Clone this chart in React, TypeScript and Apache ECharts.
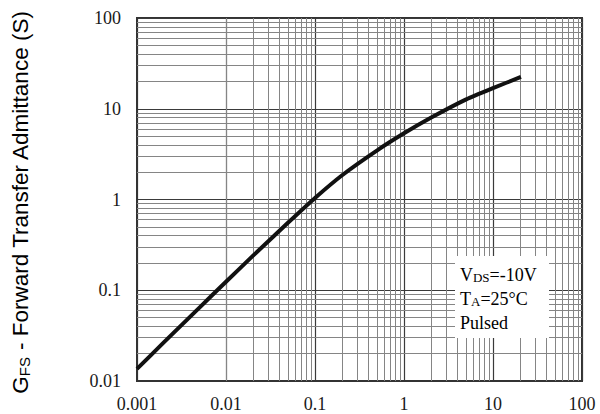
import React, { useEffect, useRef } from "react";
import * as echarts from "echarts";

// Drain current (A) vs forward transfer admittance (S)
const idValues = [0.001, 0.002, 0.005, 0.01, 0.02, 0.05, 0.1, 0.2, 0.5, 1, 2, 5, 10, 20.6];
const gfsValues = [0.0136, 0.0266, 0.064, 0.124, 0.239, 0.557, 1.04, 1.84, 3.48, 5.36, 7.95, 12.7, 16.9, 22.4];

const xTickLabels = ["0.001", "0.01", "0.1", "1", "10", "100"];
const yTickLabels = ["0.01", "0.1", "1", "10", "100"];
const xDecades = [-3, -2, -1, 0, 1];
const yDecades = [-2, -1, 0, 1];
const minorMultipliers = [2, 3, 4, 5, 6, 7, 8, 9];

const annotationLines = ["{n|V}{s|DS}{n|=-10V}", "{n|T}{s|A}{n|=25°C}", "{n|Pulsed}"];

export default function App() {
  const ref = useRef<HTMLDivElement>(null);

  useEffect(() => {
    if (!ref.current) return;
    const chart = echarts.init(ref.current, null, { renderer: "svg" });

    const minorLine = { color: "#858585", width: 1, type: "solid" as const };
    const markData: any[] = [];
    xDecades.forEach((e) => {
      minorMultipliers.forEach((m) => {
        markData.push({ xAxis: parseFloat((m * Math.pow(10, e)).toPrecision(3)), lineStyle: minorLine });
      });
    });
    yDecades.forEach((e) => {
      minorMultipliers.forEach((m) => {
        markData.push({ yAxis: parseFloat((m * Math.pow(10, e)).toPrecision(3)), lineStyle: minorLine });
      });
    });

    const serif = "'Liberation Serif', 'DejaVu Serif', serif";
    const sans = "'Liberation Sans', Arial, sans-serif";

    chart.setOption({
      animation: false,
      backgroundColor: "#ffffff",
      grid: {
        left: 137,
        right: 18,
        top: 18,
        bottom: 33,
        show: true,
        borderColor: "#333",
        borderWidth: 2,
        backgroundColor: "transparent",
      },
      xAxis: {
        type: "log",
        logBase: 10,
        min: 0.001,
        max: 100,
        axisLine: { show: true, lineStyle: { color: "#333", width: 2 } },
        axisTick: { show: false },
        splitLine: { show: true, lineStyle: { color: "#3a3a3a", width: 1.2 } },
        axisLabel: {
          margin: 14,
          fontFamily: serif,
          fontSize: 18,
          color: "#1a1a1a",
          formatter: (v: number) => xTickLabels[Math.round(Math.log10(v)) + 3] ?? "",
        },
      },
      yAxis: {
        type: "log",
        logBase: 10,
        min: 0.01,
        max: 100,
        axisLine: { show: true, lineStyle: { color: "#333", width: 2 } },
        axisTick: { show: false },
        splitLine: { show: true, lineStyle: { color: "#3a3a3a", width: 1.2 } },
        axisLabel: {
          margin: 16,
          fontFamily: serif,
          fontSize: 18,
          color: "#1a1a1a",
          formatter: (v: number) => yTickLabels[Math.round(Math.log10(v)) + 2] ?? "",
        },
      },
      series: [
        {
          type: "line",
          z: 1,
          data: [[1, 1]],
          symbol: "none",
          lineStyle: { opacity: 0 },
          silent: true,
          markLine: {
            silent: true,
            symbol: ["none", "none"],
            label: { show: false },
            emphasis: { disabled: true },
            data: markData,
          },
        },
        {
          type: "line",
          z: 5,
          data: idValues.map((x, i) => [x, gfsValues[i]]),
          smooth: 0.2,
          symbol: "none",
          lineStyle: { color: "#111", width: 4 },
          silent: true,
        },
      ],
      graphic: [
        {
          type: "rect",
          shape: { x: 455, y: 256, width: 94, height: 82 },
          style: { fill: "#ffffff" },
          z: 10,
        },
        {
          type: "text",
          x: 460,
          y: 260,
          z: 11,
          style: {
            text: annotationLines.join("\n"),
            rich: {
              n: { fontFamily: serif, fontSize: 18, color: "#1a1a1a", lineHeight: 24, verticalAlign: "bottom" },
              s: { fontFamily: serif, fontSize: 13, color: "#1a1a1a", lineHeight: 20.5, verticalAlign: "bottom" },
            },
          },
        },
        {
          type: "text",
          x: 19,
          y: 202,
          rotation: Math.PI / 2,
          z: 11,
          style: {
            text: "{a|G}{b|FS}{a| - Forward Transfer Admittance (S)}",
            align: "center",
            verticalAlign: "middle",
            rich: {
              a: { fontFamily: sans, fontSize: 22.5, color: "#222", verticalAlign: "bottom", lineHeight: 26 },
              b: { fontFamily: sans, fontSize: 15, color: "#222", verticalAlign: "bottom", lineHeight: 20.75 },
            },
          },
        },
      ],
    });

    return () => chart.dispose();
  }, []);

  return (
    <div
      ref={ref}
      style={{ position: "fixed", left: 0, top: 0, width: 600, height: 414, background: "#fff" }}
    />
  );
}
